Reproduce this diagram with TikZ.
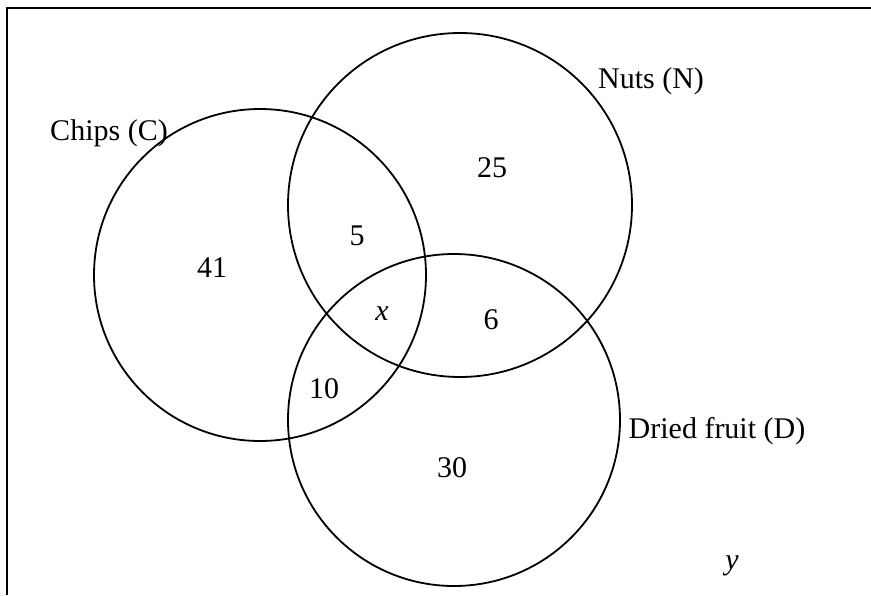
\documentclass[tikz,border=0pt]{standalone}
\usepackage{fontspec}
\setmainfont{Liberation Serif}
\usetikzlibrary{positioning}

\begin{document}
\begin{tikzpicture}[
  x=1pt, y=-1pt,
  set/.style={circle, draw, line width=1.8pt, inner sep=0pt},
  region/.style={font=\fontsize{30}{36}\selectfont},
  setname/.style={font=\fontsize{30}{36}\selectfont},
  frame/.style={line width=2.4pt},
]
\useasboundingbox (0,0) rectangle (871,595);

% the three sets
\node[set, minimum size=332pt] (C) at (260, 275) {};
\node[set, minimum size=344pt] (N) at (460, 205) {};
\node[set, minimum size=332pt] (D) at (454, 420) {};

% set names
\node[setname] (Cname) at (109, 133) {Chips (C)};
\node[setname] (Nname) at (651, 81) {Nuts (N)};
\node[setname] (Dname) at (717, 431) {Dried fruit (D)};

% region counts
\node[region] (cOnly)  at (212, 268) {41};
\node[region] (nOnly)  at (492, 168) {25};
\node[region] (dOnly)  at (452, 468) {30};
\node[region] (cn)     at (357, 236) {5};
\node[region] (nd)     at (491, 320) {6};
\node[region] (cd)     at (324, 389) {10};
\node[region] (cnd)    at (382, 314) {\textit{x}};
\node[region] (none)   at (732, 566) {\textit{y}};

% frame, top and left sides only
\coordinate (corner) at (7, 8);
\coordinate (topend) at (871, 8);
\coordinate (leftend) at (7, 595);
\draw[frame] (leftend) -- (corner) -- (topend);
\end{tikzpicture}
\end{document}
